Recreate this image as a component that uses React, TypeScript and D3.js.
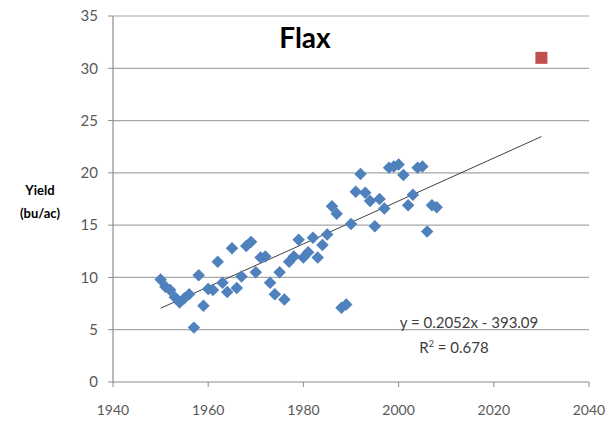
import React from "react";
import * as d3 from "d3";

const years = [1950,1951,1952,1953,1954,1955,1956,1957,1958,1959,1960,1961,1962,1963,1964,1965,1966,1967,1968,1969,1970,1971,1972,1973,1974,1975,1976,1977,1978,1979,1980,1981,1982,1983,1984,1985,1986,1987,1988,1989,1990,1991,1992,1993,1994,1995,1996,1997,1998,1999,2000,2001,2002,2003,2004,2005,2006,2007,2008];
const yields = [9.8,9.1,8.8,8.1,7.6,8.0,8.4,5.2,10.2,7.3,8.9,8.8,11.5,9.5,8.6,12.8,9.0,10.1,13.0,13.4,10.5,11.9,12.0,9.5,8.4,10.5,7.9,11.5,12.0,13.6,11.9,12.4,13.8,11.9,13.1,14.1,16.8,16.1,7.1,7.4,15.1,18.2,19.9,18.1,17.3,14.9,17.5,16.6,20.5,20.6,20.8,19.8,16.9,17.9,20.5,20.6,14.4,16.9,16.7];
const projYear = [2030];
const projYield = [31];
const trendSlope = 0.2052;
const trendIntercept = -393.09;
const trendRange = [1950, 2030];
const xTicks = [1940, 1960, 1980, 2000, 2020, 2040];
const yTicks = [0, 5, 10, 15, 20, 25, 30, 35];

const W = 610, H = 428;
const FONT = "Lato, 'Open Sans', 'Liberation Sans', sans-serif";

export default function App() {
  const x = d3.scaleLinear().domain([1940, 2040]).range([113, 589]);
  const y = d3.scaleLinear().domain([0, 35]).range([382, 16]);
  const diamond = d3.symbol().type(d3.symbolSquare).size(78)();
  const line = d3.line<number>().x(d => x(d)).y(d => y(trendSlope * d + trendIntercept));
  return (
    <svg width={W} height={H} style={{ position: "absolute", left: 0, top: 0, background: "#fff" }} fontFamily={FONT}>
      {yTicks.filter(t => t > 0).map(t => (
        <line key={"g" + t} x1={x(1940)} x2={x(2040)} y1={y(t)} y2={y(t)} stroke="#a6a6a6" strokeWidth={1.2} />
      ))}
      <line x1={x(1940)} x2={x(1940)} y1={y(35)} y2={y(0)} stroke="#8c8c8c" strokeWidth={1.2} />
      <line x1={x(1940)} x2={x(2040)} y1={y(0)} y2={y(0)} stroke="#8c8c8c" strokeWidth={1.2} />
      {yTicks.map(t => (
        <g key={"y" + t}>
          <line x1={x(1940) - 5} x2={x(1940)} y1={y(t)} y2={y(t)} stroke="#8c8c8c" />
          <text x={98} y={y(t)} dy="0.35em" textAnchor="end" fontSize={15} fill="#595959">{t}</text>
        </g>
      ))}
      {xTicks.map(t => (
        <g key={"x" + t}>
          <line x1={x(t)} x2={x(t)} y1={y(0)} y2={y(0) + 5} stroke="#8c8c8c" />
          <text x={x(t)} y={415} textAnchor="middle" fontSize={14} fill="#595959">{t}</text>
        </g>
      ))}
      <path d={line(trendRange) || ""} fill="none" stroke="#404040" strokeWidth={1} />
      {years.map((yr, i) => (
        <path key={"p" + yr} d={diamond} transform={`translate(${x(yr)},${y(yields[i])}) rotate(45)`} fill="#4f81bd" />
      ))}
      {projYear.map((yr, i) => (
        <rect key={"r" + yr} x={x(yr) - 6} y={y(projYield[i]) - 6} width={12} height={12} fill="#c0504d" />
      ))}
      <text x={305} y={48} textAnchor="middle" fontSize={28} fontWeight="bold" fill="#000">Flax</text>
      <text x={40} y={195} textAnchor="middle" fontSize={13} fontWeight="bold" fill="#000">Yield</text>
      <text x={40} y={218} textAnchor="middle" fontSize={13} fontWeight="bold" fill="#000">(bu/ac)</text>
      <text x={469} y={328} textAnchor="middle" fontSize={15} fill="#404040">y = 0.2052x - 393.09</text>
      <text x={454} y={353} textAnchor="middle" fontSize={15} fill="#404040">R<tspan dy={-6} fontSize={9}>2</tspan><tspan dy={6}> = 0.678</tspan></text>
    </svg>
  );
}
